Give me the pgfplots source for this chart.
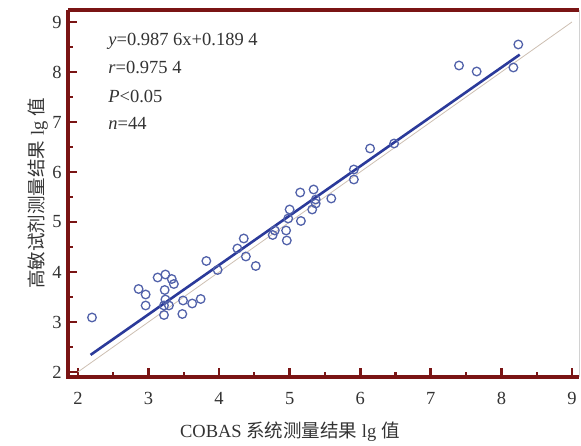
\documentclass[border=0pt]{standalone}
\usepackage{pgfplots}
\pgfplotsset{compat=1.18}
\usepackage{fontspec}
\setmainfont{Liberation Serif}
\newfontfamily\cjk{Noto Sans CJK SC}
\definecolor{spinec}{HTML}{7A1414}
\definecolor{mk}{HTML}{5262AA}
\definecolor{reg}{HTML}{2B3A9A}
\definecolor{idl}{HTML}{CDBFB2}
\definecolor{txt}{HTML}{333333}
\pgfplotstableread{
x y
2.20 3.09
2.86 3.66
2.96 3.55
2.96 3.33
3.13 3.89
3.24 3.95
3.33 3.86
3.36 3.76
3.23 3.64
3.24 3.45
3.22 3.33
3.29 3.33
3.22 3.14
3.49 3.43
3.48 3.16
3.62 3.37
3.74 3.46
3.82 4.22
3.98 4.04
4.26 4.47
4.35 4.67
4.38 4.31
4.52 4.12
4.76 4.74
4.79 4.83
4.95 4.83
4.96 4.63
4.98 5.07
5.00 5.25
5.16 5.02
5.32 5.25
5.37 5.37
5.15 5.59
5.34 5.65
5.37 5.45
5.59 5.47
5.91 6.05
5.91 5.85
6.14 6.47
6.48 6.57
7.40 8.13
7.65 8.01
8.17 8.09
8.24 8.55
}\pts
\begin{document}
\fontsize{18.5bp}{22bp}\selectfont
\begin{tikzpicture}[x=1bp,y=1bp]
\useasboundingbox (-68,-69) rectangle (513,377);
\begin{axis}[
 at={(0,0)}, anchor=south west,
 scale only axis, width=511bp, height=367bp,
 xmin=1.86, xmax=9.1, ymin=1.9, ymax=9.24,
 clip=false,
 axis line style={draw=none},
 xtick={2,...,9}, ytick={2,...,9},
 minor xtick={2.5,3.5,...,8.5}, minor ytick={2.5,3.5,...,8.5},
 tick align=inside, tick pos=left,
 major tick length=9bp, minor tick length=5bp,
 tick style={draw=spinec, line width=2.6bp},
 minor tick style={draw=spinec, line width=2.2bp},
 tick label style={txt, font=\fontsize{18.5bp}{22bp}\selectfont},
 /pgf/number format/assume math mode=true,
 xticklabel style={yshift=-9bp},
 xlabel={COBAS {\cjk 系统测量结果} lg {\cjk 值}},
 xlabel style={at={(rel axis cs:0.434,0)}, anchor=center, yshift=-55bp, txt, font=\fontsize{18.5bp}{22bp}\selectfont},
 ylabel={{\cjk 高敏试剂测量结果} lg {\cjk 值}},
 ylabel style={at={(rel axis cs:-0.0587,0.5)}, anchor=center, txt, font=\fontsize{18.5bp}{22bp}\selectfont},
]
\addplot[idl, line width=0.8bp] coordinates {(2,2) (9,9)};
\addplot[reg, line width=2.6bp] coordinates {(2.18,2.342) (8.26,8.347)};
\addplot[only marks, mark=o, mark size=4.3bp, mk, mark options={line width=1.3bp}] table[x=x,y=y] {\pts};
\draw[draw=spinec, line width=3.2bp] (rel axis cs:0,1) -- (rel axis cs:0,0) -- (rel axis cs:1,0);
\draw[draw=spinec, line width=3.2bp] (rel axis cs:0,1) -- (rel axis cs:1,1);
\draw[draw=gray!35, line width=0.6bp] (rel axis cs:1,0) -- (rel axis cs:1,1);
\node[anchor=base west, txt, font=\fontsize{18.5bp}{22bp}\selectfont] at (rel axis cs:0.0665,0.902) {\textit{y}=0.987~6x+0.189~4};
\node[anchor=base west, txt, font=\fontsize{18.5bp}{22bp}\selectfont] at (rel axis cs:0.0665,0.826) {\textit{r}=0.975~4};
\node[anchor=base west, txt, font=\fontsize{18.5bp}{22bp}\selectfont] at (rel axis cs:0.0665,0.749) {\textit{P}<0.05};
\node[anchor=base west, txt, font=\fontsize{18.5bp}{22bp}\selectfont] at (rel axis cs:0.0665,0.673) {\textit{n}=44};
\end{axis}
\end{tikzpicture}
\end{document}
